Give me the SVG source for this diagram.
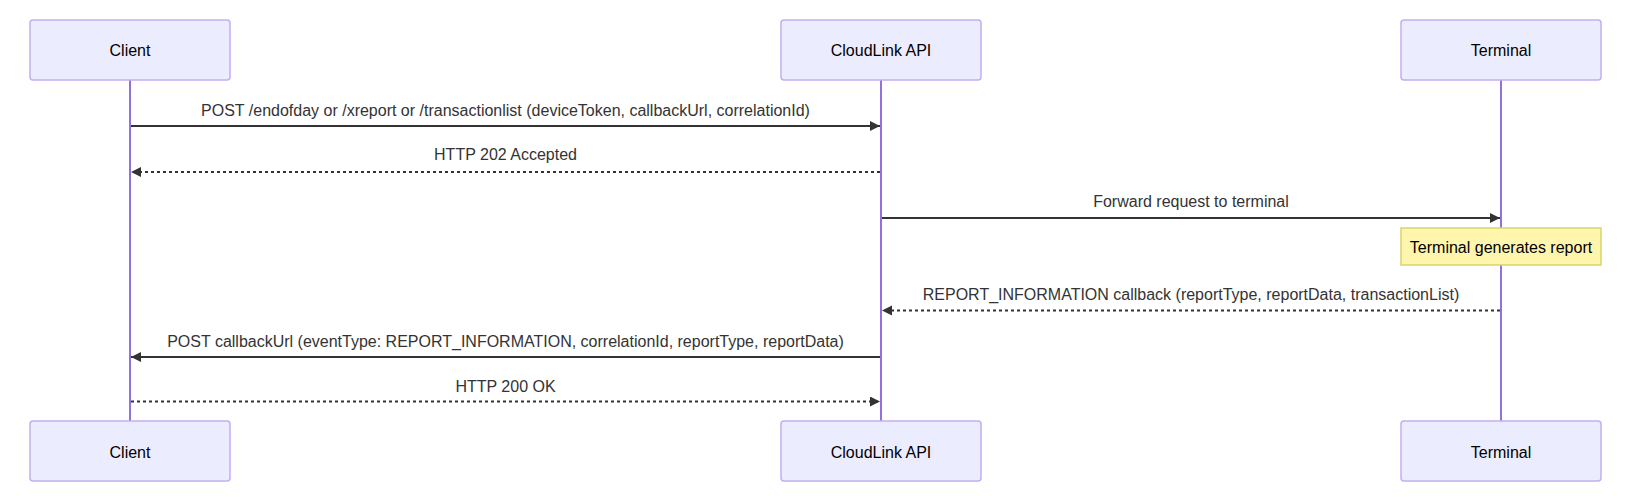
<svg xmlns="http://www.w3.org/2000/svg" width="1631" height="502" viewBox="0 0 1631 502">
<style>
.actor{fill:#ECECFF;stroke:#c2aef0;stroke-width:1.5}
.actor-text{font-family:"Liberation Sans",Arial,sans-serif;font-size:16px;fill:#000;text-anchor:middle}
.lifeline{stroke:#9370DB;stroke-width:2}
.msg{stroke:#333;stroke-width:2;fill:none}
.dashed{stroke-dasharray:3,3}
.msg-text{font-family:"Liberation Sans",Arial,sans-serif;font-size:16px;fill:#333;text-anchor:middle}
.note{fill:#fff5ad;stroke:#d6d66b;stroke-width:1.5}
.note-text{font-family:"Liberation Sans",Arial,sans-serif;font-size:16px;fill:#000;text-anchor:middle}
</style>
<defs>
<marker id="arrow" markerUnits="userSpaceOnUse" markerWidth="12" markerHeight="12" refX="10" refY="5" orient="auto">
<path d="M0,0 L10,5 L0,10 z" fill="#333"/>
</marker>
</defs>
<g id="lifelines">
<line class="lifeline" x1="130" y1="80" x2="130" y2="421"/>
<line class="lifeline" x1="881" y1="80" x2="881" y2="421"/>
<line class="lifeline" x1="1501" y1="80" x2="1501" y2="421"/>
</g>
<g id="client-top"><rect class="actor" x="30" y="20" width="200" height="60" rx="3"/><text class="actor-text" x="130" y="56">Client</text></g>
<g id="cloudlink-top"><rect class="actor" x="781" y="20" width="200" height="60" rx="3"/><text class="actor-text" x="881" y="56">CloudLink API</text></g>
<g id="terminal-top"><rect class="actor" x="1401" y="20" width="200" height="60" rx="3"/><text class="actor-text" x="1501" y="56">Terminal</text></g>
<g id="client-bottom"><rect class="actor" x="30" y="421" width="200" height="60" rx="3"/><text class="actor-text" x="130" y="457.5">Client</text></g>
<g id="cloudlink-bottom"><rect class="actor" x="781" y="421" width="200" height="60" rx="3"/><text class="actor-text" x="881" y="457.5">CloudLink API</text></g>
<g id="terminal-bottom"><rect class="actor" x="1401" y="421" width="200" height="60" rx="3"/><text class="actor-text" x="1501" y="457.5">Terminal</text></g>
<g id="note-generate"><rect class="note" x="1401" y="228" width="200" height="37"/><text class="note-text" x="1501" y="253">Terminal generates report</text></g>
<g id="connectors">
<line class="msg" x1="131" y1="126" x2="880" y2="126" marker-end="url(#arrow)"/>
<text class="msg-text" x="505.5" y="115.5">POST /endofday or /xreport or /transactionlist (deviceToken, callbackUrl, correlationId)</text>
<line class="msg dashed" x1="880" y1="172" x2="131" y2="172" marker-end="url(#arrow)"/>
<text class="msg-text" x="505.5" y="160">HTTP 202 Accepted</text>
<line class="msg" x1="882" y1="218" x2="1500" y2="218" marker-end="url(#arrow)"/>
<text class="msg-text" x="1191" y="207">Forward request to terminal</text>
<line class="msg dashed" x1="1500" y1="310.5" x2="882" y2="310.5" marker-end="url(#arrow)"/>
<text class="msg-text" x="1191" y="299.5">REPORT_INFORMATION callback (reportType, reportData, transactionList)</text>
<line class="msg" x1="880" y1="357" x2="131" y2="357" marker-end="url(#arrow)"/>
<text class="msg-text" x="505.5" y="346.5">POST callbackUrl (eventType: REPORT_INFORMATION, correlationId, reportType, reportData)</text>
<line class="msg dashed" x1="131" y1="401.5" x2="880" y2="401.5" marker-end="url(#arrow)"/>
<text class="msg-text" x="505.5" y="392">HTTP 200 OK</text>
</g>
</svg>
